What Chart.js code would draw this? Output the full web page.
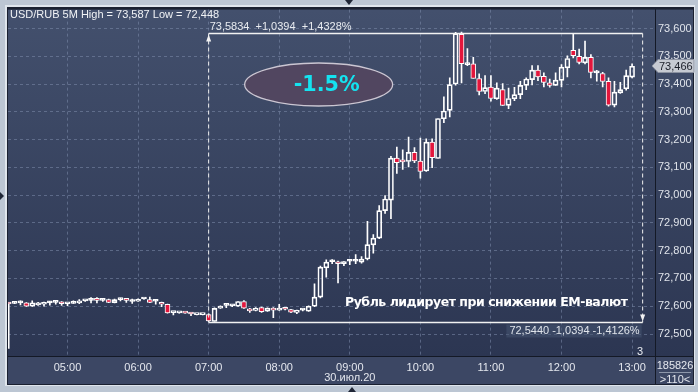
<!DOCTYPE html>
<html><head><meta charset="utf-8">
<script src="https://cdn.jsdelivr.net/npm/chart.js@4.4.0/dist/chart.umd.min.js"></script>
<style>html,body{margin:0;padding:0;background:#c3ccd8;overflow:hidden}#wrap{width:698px;height:392px;position:relative}</style>
</head><body><div id="wrap"><canvas id="c" width="698" height="392"></canvas></div>
<script>
// ---- data ----
const times = ["04:10","04:15","04:20","04:25","04:30","04:35","04:40","04:45","04:50","04:55",
"05:00","05:05","05:10","05:15","05:20","05:25","05:30","05:35","05:40","05:45","05:50","05:55",
"06:00","06:05","06:10","06:15","06:20","06:25","06:30","06:35","06:40","06:45","06:50","06:55",
"07:00","07:05","07:10","07:15","07:20","07:25","07:30","07:35","07:40","07:45","07:50","07:55",
"08:00","08:05","08:10","08:15","08:20","08:25","08:30","08:35","08:40","08:45","08:50","08:55",
"09:00","09:05","09:10","09:15","09:20","09:25","09:30","09:35","09:40","09:45","09:50","09:55",
"10:00","10:05","10:10","10:15","10:20","10:25","10:30","10:35","10:40","10:45","10:50","10:55",
"11:00","11:05","11:10","11:15","11:20","11:25","11:30","11:35","11:40","11:45","11:50","11:55",
"12:00","12:05","12:10","12:15","12:20","12:25","12:30","12:35","12:40","12:45","12:50","12:55",
"13:00"];
const open = [72.610,72.610,72.612,72.612,72.600,72.605,72.607,72.612,72.614,72.610,
72.609,72.610,72.612,72.619,72.621,72.622,72.621,72.624,72.613,72.624,72.622,72.617,
72.618,72.626,72.624,72.618,72.614,72.607,72.577,72.576,72.576,72.573,72.570,72.570,
72.570,72.545,72.593,72.603,72.601,72.600,72.617,72.590,72.585,72.595,72.582,72.593,
72.586,72.590,72.588,72.578,72.586,72.582,72.600,72.633,72.738,72.760,72.759,72.753,
72.762,72.762,72.759,72.770,72.821,72.845,72.944,72.982,73.133,73.121,73.121,73.154,
73.123,73.087,73.191,73.132,73.275,73.305,73.400,73.579,73.470,73.473,73.420,73.373,
73.389,73.347,73.380,73.323,73.347,73.362,73.395,73.416,73.450,73.428,73.404,73.395,
73.413,73.458,73.521,73.500,73.476,73.496,73.440,73.438,73.410,73.324,73.368,73.383,
73.425];
const high = [72.612,72.618,72.619,72.613,72.619,72.614,72.615,72.618,72.621,72.617,
72.611,72.619,72.624,72.622,72.631,72.631,72.627,72.626,72.626,72.629,72.628,72.626,
72.627,72.628,72.633,72.623,72.615,72.608,72.580,72.577,72.577,72.575,72.571,72.571,
72.573,72.594,72.601,72.610,72.605,72.618,72.620,72.592,72.595,72.597,72.594,72.595,
72.607,72.592,72.589,72.586,72.590,72.601,72.681,72.745,72.767,72.768,72.763,72.762,
72.769,72.786,72.779,72.906,72.858,72.962,72.998,73.140,73.173,73.163,73.209,73.171,
73.205,73.203,73.203,73.276,73.354,73.422,73.586,73.587,73.528,73.496,73.437,73.430,
73.430,73.404,73.402,73.385,73.388,73.410,73.422,73.466,73.466,73.440,73.418,73.440,
73.470,73.502,73.581,73.526,73.555,73.506,73.449,73.442,73.422,73.410,73.406,73.450,
73.473];
const low = [72.448,72.609,72.605,72.599,72.599,72.603,72.600,72.604,72.607,72.603,
72.602,72.610,72.609,72.617,72.612,72.612,72.617,72.613,72.612,72.619,72.614,72.610,
72.617,72.625,72.613,72.607,72.598,72.575,72.569,72.575,72.575,72.566,72.569,72.569,
72.544,72.545,72.592,72.595,72.598,72.599,72.592,72.578,72.583,72.578,72.581,72.559,
72.585,72.587,72.577,72.573,72.583,72.581,72.598,72.630,72.705,72.753,72.684,72.746,
72.750,72.753,72.755,72.767,72.791,72.843,72.934,72.915,73.078,73.093,73.102,73.117,
73.061,73.085,73.099,73.132,73.261,73.282,73.396,73.404,73.466,73.420,73.361,73.365,
73.338,73.345,73.323,73.311,73.340,73.347,73.380,73.397,73.412,73.390,73.389,73.395,
73.390,73.426,73.494,73.472,73.472,73.422,73.410,73.390,73.320,73.318,73.366,73.378,
73.422];
const close = [72.608,72.611,72.613,72.600,72.612,72.611,72.614,72.613,72.615,72.609,
72.610,72.612,72.619,72.620,72.622,72.621,72.622,72.614,72.624,72.625,72.621,72.618,
72.625,72.626,72.614,72.619,72.607,72.576,72.577,72.576,72.575,72.572,72.570,72.570,
72.547,72.592,72.600,72.604,72.602,72.617,72.593,72.583,72.592,72.580,72.593,72.586,
72.593,72.589,72.579,72.584,72.587,72.600,72.633,72.741,72.759,72.761,72.753,72.761,
72.763,72.763,72.770,72.822,72.845,72.944,72.986,73.133,73.117,73.120,73.154,73.123,
73.085,73.191,73.135,73.276,73.303,73.398,73.581,73.473,73.470,73.420,73.373,73.387,
73.348,73.385,73.323,73.348,73.362,73.395,73.418,73.450,73.426,73.406,73.395,73.414,
73.461,73.492,73.502,73.478,73.496,73.442,73.440,73.409,73.324,73.371,73.380,73.430,
73.464];
const hourTicks = ["05:00","06:00","07:00","08:00","09:00","10:00","11:00","12:00","13:00"];
const priceTicks = [72.5,72.6,72.7,72.8,72.9,73.0,73.1,73.2,73.3,73.4,73.5,73.6];
const dateLabel = "30.июл.20";
const titleText = "USD/RUB 5M High = 73,587 Low = 72,448";
const measureHigh = 73.5834, measureLow = 72.5440;
const measureStart = "07:00", measureEnd = "13:09";
const measureHighText = "73,5834  +1,0394  +1,4328%";
const measureLowText = "72,5440 -1,0394 -1,4126%";
const lastPrice = 73.466, lastPriceText = "73,466";
const badgeText = "-1.5%";
const captionText = "Рубль лидирует при снижении ЕМ-валют";
const volText = "185826", zoomText = ">110<", smallText = "3";

// ---- helpers ----
const toMin = s => { const [h,m] = s.split(':').map(Number); return h*60+m; };
const fmt = v => v.toFixed(3).replace('.', ',');
const FN = "'Liberation Sans Narrow','Liberation Sans',Arial,sans-serif";

const bodies = times.map((t,i)=>({x:toMin(t), y:[open[i], close[i]]}));
const upper = times.map((t,i)=>({x:toMin(t), y:[Math.max(open[i],close[i]), high[i]]}));
const lower = times.map((t,i)=>({x:toMin(t), y:[low[i], Math.min(open[i],close[i])]}));
const bodyFill = times.map((t,i)=> close[i] < open[i] ? '#e3163c' : 'rgba(0,0,0,0)');

const decor = {
  id: 'decor',
  beforeDraw(chart){
    const {ctx, chartArea:a} = chart;
    ctx.save();
    ctx.fillStyle = '#bcc6d3'; ctx.fillRect(0,0,698,392);
    ctx.fillStyle = '#dfe5ec'; ctx.fillRect(5,5,690,381);
    ctx.fillStyle = '#1a2030'; ctx.fillRect(7,7,687,378);
    const g = ctx.createLinearGradient(0,a.top,0,a.bottom);
    g.addColorStop(0,'#43506d'); g.addColorStop(1,'#2c3652');
    ctx.fillStyle = g;
    ctx.fillRect(a.left, a.top, a.right-a.left, a.bottom-a.top);
    ctx.fillRect(a.right+1, a.top, 693-a.right-1, a.bottom-a.top);
    ctx.fillStyle = '#3c4764';
    ctx.fillRect(a.left, a.bottom+1, a.right-a.left, 384-a.bottom-1);
    ctx.fillRect(a.right+1, a.bottom+1, 693-a.right-1, 384-a.bottom-1);
    // small markers on outer border
    ctx.fillStyle = '#1f2636';
    ctx.beginPath(); ctx.moveTo(345,0); ctx.lineTo(353,0); ctx.lineTo(349,5); ctx.fill();
    ctx.beginPath(); ctx.moveTo(348,392); ctx.lineTo(356,392); ctx.lineTo(352,387); ctx.fill();
    ctx.beginPath(); ctx.moveTo(0,192); ctx.lineTo(0,200); ctx.lineTo(4,196); ctx.fill();
    ctx.restore();
  },
  afterDatasetsDraw(chart){
    const {ctx, chartArea:a, scales:{x,y}} = chart;
    ctx.save();
    // measurement tool
    const x1 = x.getPixelForValue(toMin(measureStart));
    const x2 = x.getPixelForValue(toMin(measureEnd));
    const yH = Math.round(y.getPixelForValue(measureHigh))+0.5;
    const yL = Math.round(y.getPixelForValue(measureLow))+0.5;
    ctx.strokeStyle = '#f2f2f2'; ctx.lineWidth = 1.3;
    ctx.beginPath(); ctx.moveTo(x1,yH); ctx.lineTo(x2,yH); ctx.moveTo(x1,yL); ctx.lineTo(x2,yL); ctx.stroke();
    ctx.setLineDash([4,3]); ctx.lineWidth = 1;
    ctx.beginPath(); ctx.moveTo(x1,yH); ctx.lineTo(x1,yL); ctx.moveTo(x2,yH); ctx.lineTo(x2,yL); ctx.stroke();
    ctx.setLineDash([]);
    ctx.fillStyle = '#f2f2f2';
    ctx.beginPath(); ctx.moveTo(x1,yH+1); ctx.lineTo(x1-2.5,yH+8); ctx.lineTo(x1+2.5,yH+8); ctx.fill();
    ctx.beginPath(); ctx.moveTo(x2,yL-1); ctx.lineTo(x2-2.5,yL-8); ctx.lineTo(x2+2.5,yL-8); ctx.fill();
    ctx.font = '11px ' + FN; ctx.textBaseline = 'middle';
    ctx.fillStyle = '#e8ebf0'; ctx.textAlign = 'left';
    ctx.fillText(measureHighText, x1+1, yH-7);
    const lw = ctx.measureText(measureLowText).width;
    ctx.fillStyle = 'rgba(70,84,112,0.55)';
    ctx.fillRect(x2-lw-6, yL+2, lw+5, 13);
    ctx.fillStyle = '#dfe3ea'; ctx.textAlign = 'right';
    ctx.fillText(measureLowText, x2-3, yL+8.5);
    // badge ellipse
    const cx = x.getPixelForValue(toMin("07:00")) + 110, cy = 84.5;
    ctx.beginPath(); ctx.ellipse(cx, cy, 74, 21.5, 0, 0, Math.PI*2);
    ctx.fillStyle = '#514660'; ctx.fill();
    ctx.strokeStyle = '#cbc6d2'; ctx.lineWidth = 1.3; ctx.stroke();
    let fs = 22;
    ctx.font = 'bold ' + fs + "px 'DejaVu Sans',sans-serif";
    fs = fs * 66 / ctx.measureText(badgeText).width;
    ctx.font = 'bold ' + fs.toFixed(1) + "px 'DejaVu Sans',sans-serif";
    ctx.fillStyle = '#14e3f0'; ctx.textAlign = 'center'; ctx.textBaseline = 'middle';
    ctx.fillText(badgeText, cx+8, cy+1);
    // caption
    ctx.font = "bold 12.5px 'DejaVu Sans',sans-serif";
    const cw = ctx.measureText(captionText).width;
    ctx.letterSpacing = ((283 - cw) / (captionText.length-1)).toFixed(2) + 'px';
    ctx.fillStyle = '#ffffff'; ctx.textAlign = 'left';
    ctx.fillText(captionText, 345, 303);
    ctx.letterSpacing = '0px';
    ctx.restore();
  },
  afterDraw(chart){
    const {ctx, chartArea:a, scales:{x,y}} = chart;
    ctx.save();
    // separators
    ctx.strokeStyle = '#141926'; ctx.lineWidth = 1;
    ctx.beginPath(); ctx.moveTo(a.left, a.bottom+0.5); ctx.lineTo(693, a.bottom+0.5);
    ctx.moveTo(a.right+0.5, a.top); ctx.lineTo(a.right+0.5, 384); ctx.stroke();
    // title
    ctx.font = '11px ' + FN; ctx.textBaseline = 'middle'; ctx.textAlign = 'left';
    ctx.fillStyle = '#f0f2f5';
    ctx.fillText(titleText, 10, 15);
    // small "3"
    ctx.fillStyle = '#e8ebf0'; ctx.fillText(smallText, 637, 352);
    // date
    ctx.textAlign = 'center'; ctx.fillStyle = '#e4e7ee';
    ctx.fillText(dateLabel, x.getPixelForValue(toMin("09:00")), 378);
    // right-bottom cell
    ctx.fillText(volText, 675, 366);
    ctx.fillText(zoomText, 675, 380);
    ctx.strokeStyle = '#8d97aa'; ctx.beginPath(); ctx.moveTo(659, 372.5); ctx.lineTo(691, 372.5); ctx.stroke();
    // last price tag
    const py = Math.round(y.getPixelForValue(lastPrice));
    ctx.beginPath(); ctx.moveTo(652, py); ctx.lineTo(658, py-6.5); ctx.lineTo(694, py-6.5);
    ctx.lineTo(694, py+6.5); ctx.lineTo(658, py+6.5); ctx.closePath();
    ctx.fillStyle = '#c6cad2'; ctx.fill();
    ctx.strokeStyle = '#8c93a2'; ctx.stroke();
    ctx.fillStyle = '#1b1e28'; ctx.textAlign = 'left';
    ctx.fillText(lastPriceText, 659, py+0.5);
    ctx.restore();
  }
};

new Chart(document.getElementById('c'), {
  type: 'bar',
  data: { datasets: [
    { data: upper, backgroundColor: '#ffffff', borderWidth: 0, barThickness: 1, grouped: false, order: 2 },
    { data: lower, backgroundColor: '#ffffff', borderWidth: 0, barThickness: 1, grouped: false, order: 2 },
    { data: bodies, backgroundColor: bodyFill, borderColor: '#ffffff', borderWidth: 1, borderSkipped: false,
      barThickness: 5, minBarLength: 2, grouped: false, order: 1 }
  ]},
  options: {
    responsive: false, animation: false, events: [],
    layout: { padding: { left: 8, top: 8, right: 5, bottom: 8 } },
    plugins: { legend: { display: false }, tooltip: { enabled: false } },
    scales: {
      x: {
        type: 'linear', min: 249.4, max: 799.5, offset: false,
        grid: { color: 'rgba(125,140,172,0.55)', offset: false, drawTicks: false, lineWidth: 1 },
        border: { display: false, dash: [3,3] },
        afterBuildTicks: s => { s.ticks = hourTicks.map(t => ({ value: toMin(t) })); },
        afterFit: s => { s.height = 28; },
        ticks: { color: '#e4e7ee', font: { family: FN, size: 11 }, padding: 5, maxRotation: 0, autoSkip: false,
          callback: v => { const h = Math.floor(v/60); return String(h).padStart(2,'0') + ':00'; } }
      },
      y: {
        position: 'right', min: 72.4208, max: 73.668,
        grid: { color: 'rgba(125,140,172,0.55)', drawTicks: false, lineWidth: 1 },
        border: { display: false, dash: [3,3] },
        afterBuildTicks: s => { s.ticks = priceTicks.map(v => ({ value: v })); },
        afterFit: s => { s.width = 38; },
        ticks: { color: '#e0e4eb', font: { family: FN, size: 11 }, padding: 3, crossAlign: 'near',
          callback: v => fmt(v) }
      }
    }
  },
  plugins: [decor]
});
</script></body></html>
